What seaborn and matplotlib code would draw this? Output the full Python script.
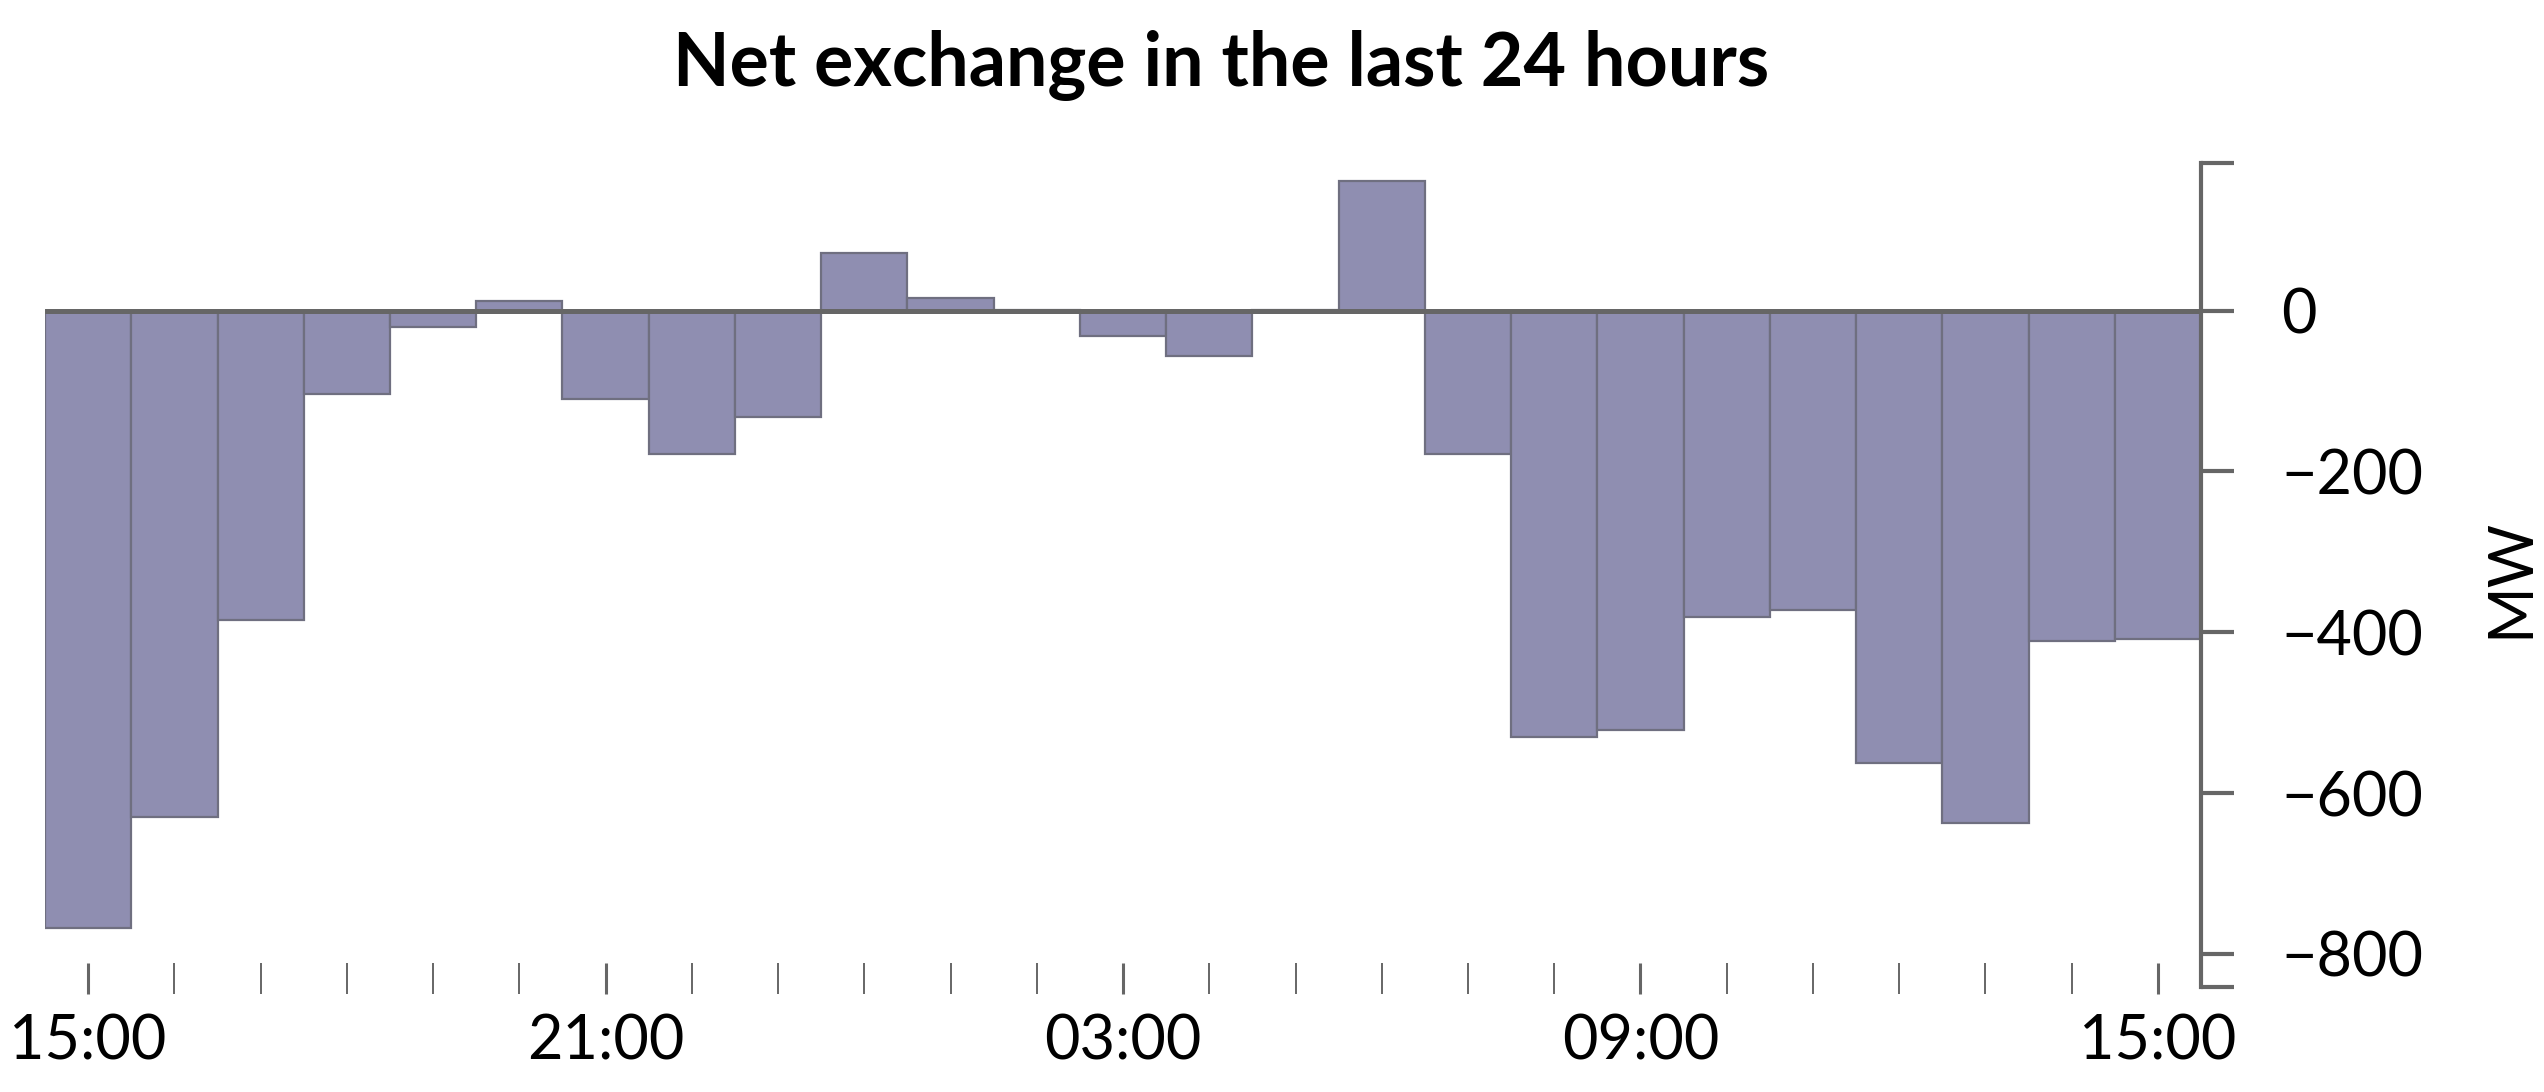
import matplotlib
matplotlib.use("Agg")
import matplotlib.pyplot as plt
import seaborn as sns
import pandas as pd

# hourly net exchange, 15:00 to 15:00 next day
hours = ['15:00', '16:00', '17:00', '18:00', '19:00', '20:00', '21:00', '22:00',
         '23:00', '00:00', '01:00', '02:00', '03:00', '04:00', '05:00', '06:00',
         '07:00', '08:00', '09:00', '10:00', '11:00', '12:00', '13:00', '14:00', '15:00']
net_mw = [-768, -630, -385, -104, -20, 12, -110, -178, -132, 72, 15, 1,
          -32, -56, 1, 161, -178, -530, -522, -381, -373, -563, -637, -411, -409]

y_ticks = [0, -200, -400, -600, -800]
y_labels = ['0', '\u2212200', '\u2212400', '\u2212600', '\u2212800']
axis_top = 183
axis_bottom = -841

df = pd.DataFrame({'idx': range(len(hours)), 'hour': hours, 'mw': net_mw})

sns.set_style('white')
plt.rcParams['font.family'] = ['Lato', 'DejaVu Sans']
plt.rcParams['text.color'] = 'black'

grey = '#666666'
fig = plt.figure(figsize=(12.72, 5.46), dpi=200)
ax = fig.add_axes([0.0177, 0.0897, 0.8475, 0.7614])

sns.barplot(data=df, x='idx', y='mw', color='#8f8eb1', saturation=1, width=1.0,
            edgecolor='#6f6f80', linewidth=0.8, ax=ax)
ax.axhline(0, color=grey, lw=1.8, zorder=5)

ax.set_xlim(-0.5, len(hours) - 0.5)
ax.set_ylim(-850, 184)

for s in ['top', 'left', 'bottom']:
    ax.spines[s].set_visible(False)
ax.spines['right'].set_color(grey)
ax.spines['right'].set_linewidth(1.5)
ax.spines['right'].set_bounds(axis_bottom, axis_top)

ax.yaxis.tick_right()
ax.set_yticks([axis_top] + y_ticks + [axis_bottom])
ax.set_yticklabels([''] + y_labels + [''])
ax.tick_params(axis='y', direction='out', length=12, width=1.5, color=grey,
               pad=17, labelsize=22, labelcolor='black')
ax.yaxis.set_label_position('right')
ax.set_ylabel('MW', fontsize=22, rotation=90, labelpad=21, color='black')

major = [0, 6, 12, 18, 24]
ax.set_xticks(major)
ax.set_xticklabels([hours[i] for i in major])
ax.set_xticks([i for i in range(len(hours)) if i not in major], minor=True)
ax.tick_params(axis='x', which='major', direction='in', length=11, width=1.1,
               color=grey, pad=7, labelsize=22, labelcolor='black', bottom=True)
ax.tick_params(axis='x', which='minor', direction='in', length=11, width=0.7,
               color=grey, bottom=True)
ax.set_xlabel('')

fig.text(0.48, 0.921, 'Net exchange in the last 24 hours', ha='center', va='baseline',
         fontsize=26.5, fontweight='bold', color='black')

fig.savefig('out.png', dpi=200)
